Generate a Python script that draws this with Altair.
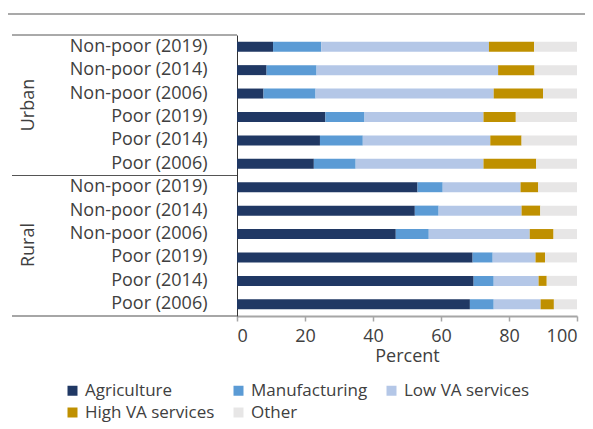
import altair as alt
import pandas as pd

groups = ["Urban"] * 6 + ["Rural"] * 6
labels = ["Non-poor (2019)", "Non-poor (2014)", "Non-poor (2006)",
          "Poor (2019)", "Poor (2014)", "Poor (2006)"] * 2
sectors = ["Agriculture", "Manufacturing", "Low VA services", "High VA services", "Other"]
colors = ["#203864", "#5B9BD5", "#B4C7E7", "#BF9000", "#E7E6E6"]

agriculture = [10.6, 8.7, 7.8, 26.0, 24.4, 22.6, 53.1, 52.3, 46.7, 69.3, 69.6, 68.5]
manufacturing = [14.2, 14.7, 15.3, 11.5, 12.6, 12.3, 7.4, 7.0, 9.7, 5.9, 5.9, 7.0]
low_va = [49.3, 53.4, 52.4, 35.0, 37.5, 37.6, 22.9, 24.4, 29.7, 12.6, 13.2, 13.8]
high_va = [13.3, 10.7, 14.5, 9.5, 9.2, 15.5, 5.2, 5.5, 7.0, 2.8, 2.4, 3.9]
other = [12.6, 12.5, 10.0, 18.0, 16.3, 12.0, 11.4, 10.8, 6.9, 9.4, 8.9, 6.8]

series = [agriculture, manufacturing, low_va, high_va, other]
keys = [f"{g}|{l}" for g, l in zip(groups, labels)]

rows = []
for si, (name, vals) in enumerate(zip(sectors, series)):
    for k, v in zip(keys, vals):
        rows.append({"key": k, "sector": name, "value": v, "order": si})
df = pd.DataFrame(rows)

FONT = "Open Sans"
TXT = "#404040"

bars = alt.Chart(df).mark_bar(size=10).encode(
    x=alt.X("value:Q", stack="zero",
            scale=alt.Scale(domain=[0, 100], nice=False),
            axis=alt.Axis(values=[0, 20, 40, 60, 80, 100], title="Percent",
                          labelFontSize=18, titleFontSize=18, titleFontWeight="normal",
                          labelColor=TXT, titleColor=TXT, labelFont=FONT, titleFont=FONT,
                          domainColor="#a6a6a6", domainWidth=2, tickColor="#a6a6a6",
                          tickWidth=1.5, tickSize=5, labelPadding=6, titlePadding=2,
                          grid=False)),
    y=alt.Y("key:N", sort=keys,
            scale=alt.Scale(paddingInner=0, paddingOuter=0),
            axis=alt.Axis(title=None, ticks=False, labelPadding=30,
                          labelExpr="split(datum.value, '|')[1]",
                          labelFontSize=18, labelColor=TXT, labelFont=FONT,
                          domainColor="#333333", domainWidth=1, grid=False)),
    color=alt.Color("sector:N", scale=alt.Scale(domain=sectors, range=colors),
                    legend=alt.Legend(title=None, orient="none", legendX=-173, legendY=347,
                                      columns=3, direction="horizontal",
                                      symbolType="square", symbolSize=100, symbolStrokeWidth=0,
                                      labelFontSize=17, labelColor=TXT, labelFont=FONT,
                                      columnPadding=15, rowPadding=4, labelOffset=4)),
    order=alt.Order("order:Q"),
)

one = pd.DataFrame({"a": [0]})

def hrule(x1, x2, y, color, width):
    return alt.Chart(one).mark_rule(color=color, strokeWidth=width).encode(
        x=alt.value(x1), x2=alt.value(x2), y=alt.value(y))

rules = [
    hrule(-229, 348, -21, "#8c8c8c", 1.5),
    hrule(-225, 0, 0, "#555555", 1),
    hrule(-225, 0, 140.5, "#555555", 1),
    hrule(-225, 0, 281, "#a6a6a6", 2),
]

def group_label(name, y):
    return alt.Chart(pd.DataFrame({"g": [name]})).mark_text(
        angle=270, align="center", baseline="middle", fontSize=18, font=FONT, color=TXT
    ).encode(text="g:N", x=alt.value(-208), y=alt.value(y))

chart = alt.layer(bars, *rules, group_label("Urban", 70), group_label("Rural", 210)).properties(
    width=340, height=281,
    padding={"left": 229, "top": 27, "right": 8, "bottom": 109},
    autosize=alt.AutoSizeParams(type="none"),
).configure_view(stroke=None)

chart.save("out.html", embed_options={"renderer": "svg", "actions": False})
